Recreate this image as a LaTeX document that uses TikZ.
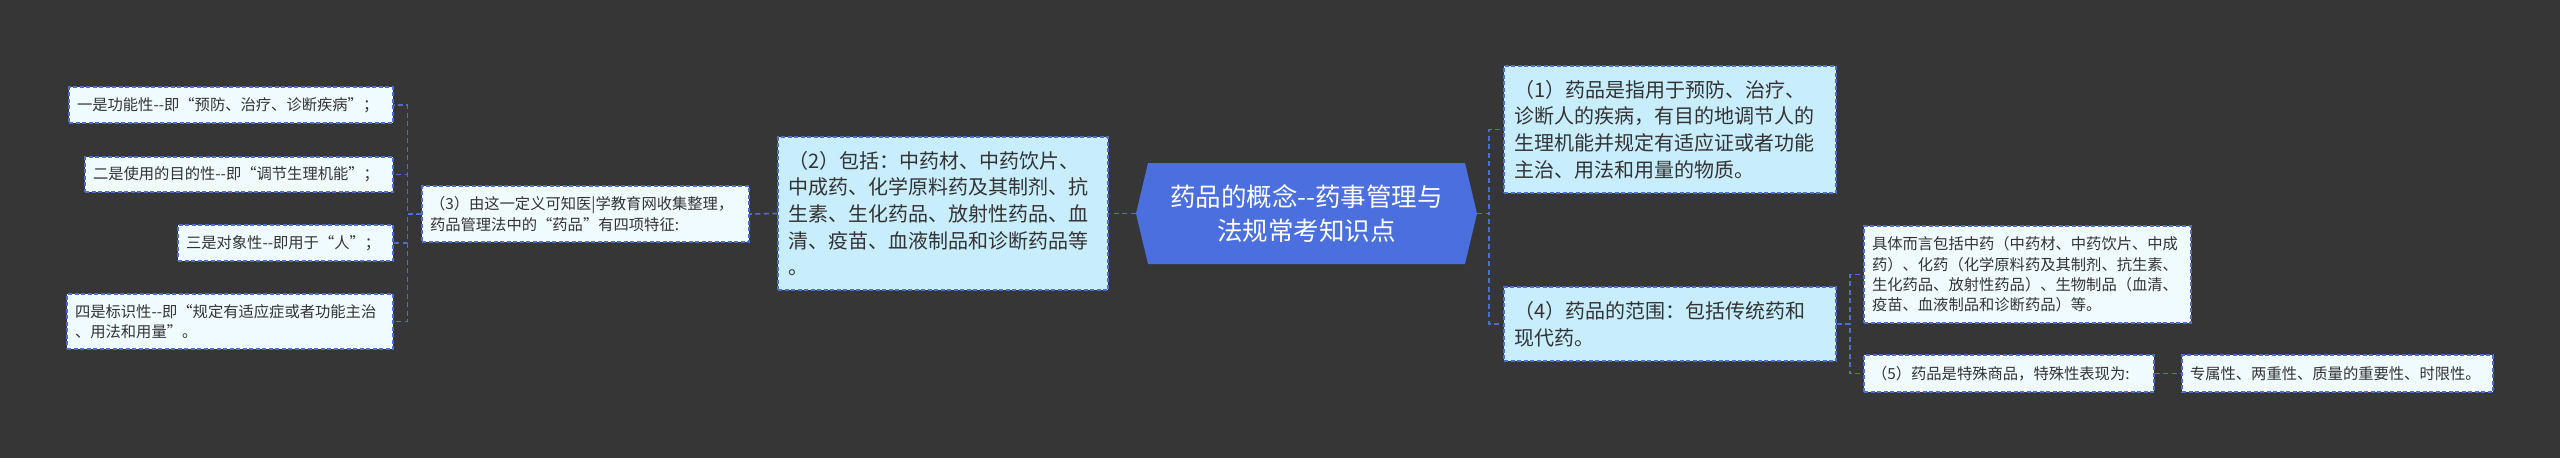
\documentclass[tikz,border=0pt]{standalone}
\usepackage{fontspec}
\setmainfont{Noto Sans CJK SC}
\newfontfamily\cjkf{Noto Sans CJK SC}
\definecolor{bgc}{HTML}{363636}
\definecolor{linec}{HTML}{4E6DD2}
\definecolor{hexc}{HTML}{4B6FDF}
\definecolor{lvone}{HTML}{C8EDFC}
\definecolor{leafc}{HTML}{F0FBFF}
\definecolor{txtc}{HTML}{333333}
\tikzset{
  x=1pt, y=-1pt,
  conn/.style={draw=linec, line width=1.6pt, dash pattern=on 5pt off 3.5pt},
  lvbox/.style={draw=linec, fill=lvone, line width=1.4pt, dash pattern=on 4pt off 2.5pt,
    inner xsep=10pt, inner ysep=0pt, align=left, text=txtc,
    font=\cjkf\fontsize{20}{26.7}\selectfont},
  leafbox/.style={draw=linec, fill=leafc, line width=1.4pt, dash pattern=on 4pt off 2.5pt,
    inner xsep=8pt, inner ysep=0pt, align=left, text=txtc,
    font=\cjkf\fontsize{15.3}{20.3}\selectfont},
  centrebox/.style={inner sep=0pt, align=center, text=white,
    font=\cjkf\fontsize{25.5}{34}\selectfont}
}
\begin{document}
\begin{tikzpicture}
\fill[bgc] (0,0) rectangle (2560,458);
\useasboundingbox (0,0) rectangle (2560,458);

% centre
\fill[hexc] (1148,163) -- (1465,163) -- (1477,213.5) -- (1465,264) -- (1148,264) -- (1136,213.5) -- cycle;
\node[centrebox, minimum width=341pt, minimum height=101pt] (C) at (1306.5,213.5)
  {药品的概念-{}-药事管理与\\法规常考知识点};

% level one
\node[lvbox, minimum height=153pt, text width=310pt] (B2) at (943,213.5)
  {（2）包括：中药材、中药饮片、\\中成药、化学原料药及其制剂、抗\\生素、生化药品、放射性药品、血\\清、疫苗、血液制品和诊断药品等\\。};
\node[lvbox, minimum height=127pt, text width=312pt] (B1) at (1670,129.5)
  {（1）药品是指用于预防、治疗、\\诊断人的疾病，有目的地调节人的\\生理机能并规定有适应证或者功能\\主治、用法和用量的物质。};
\node[lvbox, minimum height=74pt, text width=312pt] (B4) at (1670,324)
  {（4）药品的范围：包括传统药和\\现代药。};

% left leaves
\node[leafbox, minimum height=56pt, text width=311pt] (B3) at (585.5,214)
  {（3）由这一定义可知医|学教育网收集整理，\\药品管理法中的“药品”有四项特征:};
\node[leafbox, minimum height=36pt, text width=308pt] (L1) at (231,105)
  {一是功能性-{}-即“预防、治疗、诊断疾病”；};
\node[leafbox, minimum height=35pt, text width=292pt] (L2) at (239,174.5)
  {二是使用的目的性-{}-即“调节生理机能”；};
\node[leafbox, minimum height=36pt, text width=199pt] (L3) at (285.5,243)
  {三是对象性-{}-即用于“人”；};
\node[leafbox, minimum height=55pt, text width=310pt] (L4) at (230,321.5)
  {四是标识性-{}-即“规定有适应症或者功能主治\\、用法和用量”。};

% right leaves
\node[leafbox, minimum height=97pt, text width=311pt] (S1) at (2027.5,274.5)
  {具体而言包括中药（中药材、中药饮片、中成\\药）、化药（化学原料药及其制剂、抗生素、\\生化药品、放射性药品）、生物制品（血清、\\疫苗、血液制品和诊断药品）等。};
\node[leafbox, minimum height=37pt, text width=274pt] (S2) at (2009,373.5)
  {（5）药品是特殊商品，特殊性表现为:};
\node[leafbox, minimum height=37pt, text width=295pt] (S3) at (2337.5,373.5)
  {专属性、两重性、质量的重要性、时限性。};

% connectors
\draw[conn] (C.west) -- (B2.east);
\draw[conn] (B2.west) -- (B3.east);
\draw[conn] (B3.west) -- ++(-14,0) |- (L1.east);
\draw[conn] (B3.west) -- ++(-14,0) |- (L2.east);
\draw[conn] (B3.west) -- ++(-14,0) |- (L3.east);
\draw[conn] (B3.west) -- ++(-14,0) |- (L4.east);
\draw[conn] (C.east) -- ++(12,0) |- (B1.west);
\draw[conn] (C.east) -- ++(12,0) |- (B4.west);
\draw[conn] (B4.east) -- ++(13,0) |- (S1.west);
\draw[conn] (B4.east) -- ++(13,0) |- (S2.west);
\draw[conn] (S2.east) -- (S3.west);
\end{tikzpicture}
\end{document}
